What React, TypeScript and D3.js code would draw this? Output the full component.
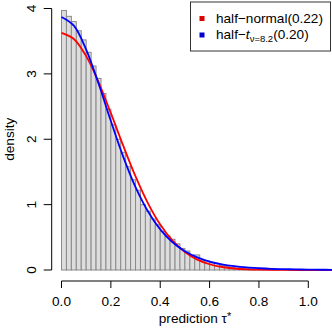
import React from "react";
import * as d3 from "d3";

// histogram of predictions, bin width 0.02 (left edges) and densities
const binStart = [
  0.0, 0.02, 0.04, 0.06, 0.08, 0.1, 0.12, 0.14, 0.16, 0.18,
  0.2, 0.22, 0.24, 0.26, 0.28, 0.3, 0.32, 0.34, 0.36, 0.38,
  0.4, 0.42, 0.44, 0.46, 0.48, 0.5, 0.52, 0.54, 0.56, 0.58,
  0.6, 0.62, 0.64, 0.66, 0.68, 0.7, 0.72, 0.74, 0.76, 0.78,
  0.8, 0.82, 0.84, 0.86, 0.88, 0.9, 0.92, 0.94, 0.96, 0.98,
  1.0, 1.02, 1.04, 1.06,
];
const binDensity = [
  3.97, 3.88, 3.8, 3.66, 3.52, 3.33, 3.12, 2.93, 2.7, 2.46,
  2.22, 2.0, 1.8, 1.58, 1.38, 1.22, 1.0, 0.9, 0.78, 0.69,
  0.59, 0.52, 0.47, 0.4, 0.33, 0.29, 0.23, 0.23, 0.15, 0.14,
  0.11, 0.1, 0.07, 0.05, 0.04, 0.03, 0.025, 0.02, 0.015, 0.01,
  0.006, 0.005, 0.004, 0.003, 0.003, 0.002, 0.002, 0.001, 0.001, 0.001,
  0.001, 0.0, 0.0, 0.0,
];
const binWidth = 0.02;

// fitted densities
const curveX = [
  0, 0.05, 0.1, 0.15, 0.2, 0.25, 0.3, 0.35, 0.4, 0.45, 0.5, 0.55,
  0.6, 0.65, 0.7, 0.75, 0.8, 0.85, 0.9, 0.95, 1.0, 1.05, 1.1,
];
const halfNormal = [
  3.627, 3.534, 3.271, 2.875, 2.399, 1.902, 1.431, 1.023, 0.695, 0.448, 0.274, 0.159,
  0.088, 0.046, 0.023, 0.011, 0.005, 0.002, 0.001, 0, 0, 0, 0,
];
const halfT = [
  3.87, 3.737, 3.371, 2.852, 2.279, 1.735, 1.268, 0.899, 0.622, 0.424, 0.286, 0.192,
  0.128, 0.086, 0.058, 0.039, 0.027, 0.018, 0.013, 0.009, 0.006, 0.004, 0.003,
];

const xTicks = [0, 0.2, 0.4, 0.6, 0.8, 1.0];
const yTicks = [0, 1, 2, 3, 4];

const FONT = "'Liberation Sans', Arial, Helvetica, sans-serif";
const FS = 13.6;

export default function App() {
  const W = 332;
  const H = 332;
  const x = d3.scaleLinear().domain([0, 1]).range([61.5, 308.3]);
  const y = d3.scaleLinear().domain([0, 4]).range([270, 8.5]);

  const line = d3
    .line<number>()
    .x((_, i) => x(curveX[i]))
    .y((d) => y(d))
    .curve(d3.curveCatmullRom.alpha(0.5));

  const axisY = 281;
  const axisX = 51.7;

  return (
    <svg
      width={W}
      height={H}
      style={{ position: "absolute", left: 0, top: 0, background: "#fff" }}
      fontFamily={FONT}
    >
      {/* bars */}
      <g fill="#dddddd" stroke="#8a8a8a" strokeWidth={1}>
        {binStart.map((b, i) => (
          <rect
            key={i}
            x={x(b)}
            y={y(binDensity[i])}
            width={x(b + binWidth) - x(b)}
            height={y(0) - y(binDensity[i])}
          />
        ))}
      </g>

      {/* fitted curves */}
      <path d={line(halfNormal) || ""} fill="none" stroke="#ff0000" strokeWidth={1.8} />
      <path d={line(halfT) || ""} fill="none" stroke="#0000ff" strokeWidth={1.8} />

      {/* x axis */}
      <g stroke="#000" strokeWidth={1}>
        <line x1={x(0)} x2={x(1)} y1={axisY} y2={axisY} />
        {xTicks.map((t) => (
          <line key={t} x1={x(t)} x2={x(t)} y1={axisY} y2={axisY + 7} />
        ))}
      </g>
      <g fontSize={FS} textAnchor="middle">
        {xTicks.map((t) => (
          <text key={t} x={x(t)} y={305.5}>
            {t.toFixed(1)}
          </text>
        ))}
      </g>
      <text x={195} y={322.5} fontSize={FS} textAnchor="middle">
        prediction τ<tspan dy={-3} fontSize={11}>*</tspan>
      </text>

      {/* y axis */}
      <g stroke="#000" strokeWidth={1}>
        <line x1={axisX} x2={axisX} y1={y(0)} y2={y(4)} />
        {yTicks.map((t) => (
          <line key={t} x1={axisX - 8} x2={axisX} y1={y(t)} y2={y(t)} />
        ))}
      </g>
      <g fontSize={FS} textAnchor="middle">
        {yTicks.map((t) => (
          <text key={t} transform={`translate(36.4,${y(t)}) rotate(-90)`}>
            {t}
          </text>
        ))}
      </g>
      <text transform={`translate(14,${y(2)}) rotate(-90)`} fontSize={FS} textAnchor="middle">
        density
      </text>

      {/* legend */}
      <rect x={190.5} y={2} width={140} height={49} fill="#fff" stroke="#333" strokeWidth={1} />
      <rect x={199.5} y={16} width={5} height={5} fill="#dd0000" />
      <rect x={199.5} y={32.5} width={5} height={5} fill="#0000cc" />
      <text x={216} y={22.5} fontSize={FS}>
        half−normal(0.22)
      </text>
      <text x={216} y={39} fontSize={FS}>
        half−<tspan fontStyle="italic">t</tspan>
        <tspan dy={3} fontSize={9.5}>
          ν=8.2
        </tspan>
        <tspan dy={-3}>(0.20)</tspan>
      </text>
    </svg>
  );
}
